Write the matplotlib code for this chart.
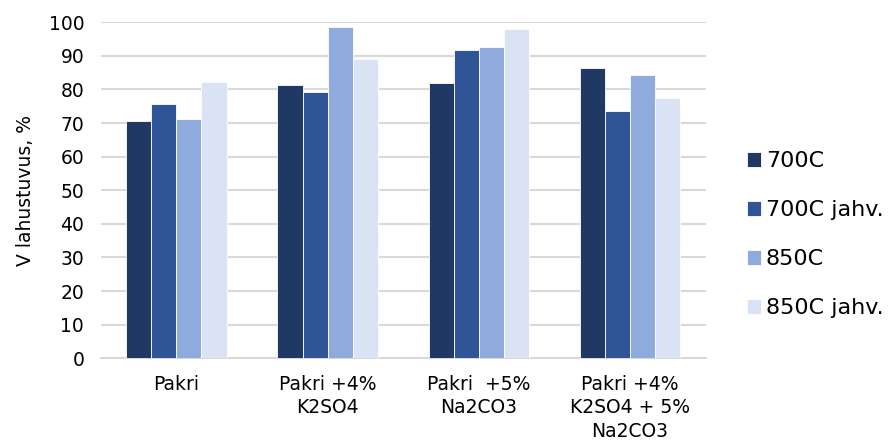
import numpy as np
import matplotlib.pyplot as plt

categories = ['Pakri', 'Pakri +4%\nK2SO4', 'Pakri  +5%\nNa2CO3', 'Pakri +4%\nK2SO4 + 5%\nNa2CO3']
series = ['700C', '700C jahv.', '850C', '850C jahv.']
v_700 = [70.6, 81.2, 81.8, 86.3]
v_700_jahv = [75.6, 79.1, 91.7, 73.6]
v_850 = [71.3, 98.5, 92.5, 84.3]
v_850_jahv = [82.2, 89.0, 98.1, 77.4]
values = [v_700, v_700_jahv, v_850, v_850_jahv]
colors = ['#203864', '#2F5597', '#8FAADC', '#DAE3F3']

plt.rcParams['font.family'] = ['DejaVu Sans']

fig = plt.figure(figsize=(8.96, 4.45), dpi=100)
ax = fig.add_axes([0.1125, 0.195, 0.675, 0.755])

x = np.arange(len(categories))
w = 0.166
for i, (name, vals) in enumerate(zip(series, values)):
    ax.bar(x + (i - 1.5) * w, vals, width=w, color=colors[i], label=name,
           edgecolor='white', linewidth=0.6, zorder=3)

ax.set_xlim(-0.5, len(categories) - 0.5)
ax.set_ylim(0, 100)
ax.set_yticks(range(0, 101, 10))
ax.yaxis.grid(True, color='#D9D9D9', linewidth=1.5, zorder=0)
ax.set_axisbelow(True)
for s in ['top', 'right', 'left']:
    ax.spines[s].set_visible(False)
ax.spines['bottom'].set_color('#D9D9D9')
ax.spines['bottom'].set_linewidth(1.5)
ax.tick_params(axis='both', length=0, labelsize=13.5, colors='black')
ax.tick_params(axis='x', pad=12)
ax.tick_params(axis='y', pad=12)
ax.set_xticks(x)
ax.set_xticklabels(categories, linespacing=1.3)
ax.set_ylabel('V lahustuvus, %', fontsize=13.5, labelpad=10)

ax.legend(loc='center left', bbox_to_anchor=(1.035, 0.368), frameon=False,
          fontsize=16, handlelength=0.65, handleheight=0.65, handletextpad=0.2,
          labelspacing=1.3)

fig.savefig('out.png', dpi=100)
